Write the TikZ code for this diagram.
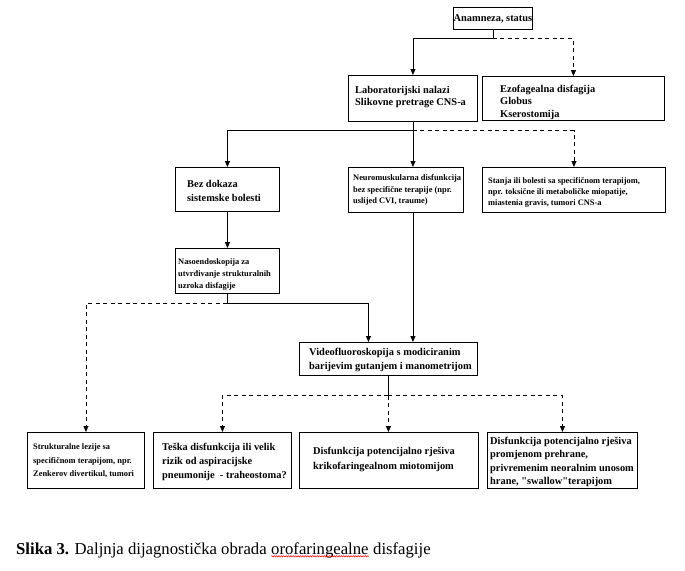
\documentclass[tikz,border=0pt]{standalone}
\usepackage{fontspec}
\setmainfont{Liberation Serif}
\usetikzlibrary{arrows.meta,decorations.pathmorphing}
\newcommand\straightq{\XeTeXglyph\XeTeXcharglyph"22\relax}
\begin{document}
\begin{tikzpicture}[x=1pt,y=-1pt,
  box/.style={draw=black, line width=0.9pt, inner sep=0pt, anchor=north west},
  tL/.style={anchor=west, inner sep=0pt, align=left, font=\fontsize{10.4}{12.5}\selectfont\bfseries},
  tS/.style={anchor=west, inner sep=0pt, align=left, font=\fontsize{8.4}{11.5}\selectfont\bfseries},
  conn/.style={draw=black, line width=0.9pt},
  dconn/.style={conn, dash pattern=on 4pt off 3.5pt},
  tip/.style={-{Triangle[length=6pt,width=5pt]}}
]
\useasboundingbox[fill=white] (0,0) rectangle (685,570);

% boxes
\node[box, minimum width=79pt, minimum height=22pt] (anam) at (453,7) {};
\node[box, minimum width=129pt, minimum height=46pt] (lab) at (348,75) {};
\node[box, minimum width=182pt, minimum height=44pt] (ezo) at (482,76) {};
\node[box, minimum width=104pt, minimum height=44pt] (bez) at (175,167) {};
\node[box, minimum width=115pt, minimum height=45pt] (neuro) at (348,167) {};
\node[box, minimum width=183pt, minimum height=45pt] (stanja) at (482,167) {};
\node[box, minimum width=104pt, minimum height=45pt] (naso) at (175,248) {};
\node[box, minimum width=178pt, minimum height=33pt] (video) at (299,342) {};
\node[box, minimum width=117pt, minimum height=56pt] (strukt) at (27,432) {};
\node[box, minimum width=138pt, minimum height=56pt] (teska) at (153,432) {};
\node[box, minimum width=179pt, minimum height=56pt] (kriko) at (299,432) {};
\node[box, minimum width=150pt, minimum height=56pt] (last) at (487,432) {};

% texts
\node[inner sep=0pt, font=\fontsize{10.4}{12.5}\selectfont\bfseries] (anam-t) at (anam.center) {Anamneza, status};
\node[tL] (lab-t) at (355,97) {Laboratorijski nalazi\\Slikovne pretrage CNS-a};
\node[tL] (ezo-t) at (500,102) {Ezofagealna disfagija\\Globus\\Kserostomija};
\node[tL, font=\fontsize{10.4}{14}\selectfont\bfseries] (bez-t) at (187,191) {Bez dokaza\\sistemske bolesti};
\node[tS] (neuro-t) at (353,190) {Neuromuskularna disfunkcija\\bez specifične terapije (npr.\\uslijed CVI, traume)};
\node[tS, font=\fontsize{8.4}{11}\selectfont\bfseries] (stanja-t) at (488,192) {Stanja ili bolesti sa specifičnom terapijom,\\npr. toksične ili metaboličke miopatije,\\miastenia gravis, tumori CNS-a};
\node[tS, font=\fontsize{8.4}{12}\selectfont\bfseries] (naso-t) at (178,275) {Nasoendoskopija za\\utvrđivanje strukturalnih\\uzroka disfagije};
\node[tL, font=\fontsize{10.4}{13.5}\selectfont\bfseries] (video-t) at (309,360) {Videofluoroskopija s modiciranim\\barijevim gutanjem i manometrijom};
\node[tS, font=\fontsize{8.4}{13.5}\selectfont\bfseries] (strukt-t) at (33,461) {Strukturalne lezije sa\\specifičnom terapijom, npr.\\Zenkerov divertikul, tumori};
\node[tL, font=\fontsize{10.4}{13.8}\selectfont\bfseries] (teska-t) at (162,462) {Teška disfunkcija ili velik\\rizik od aspiracijske\\pneumonije \ - traheostoma?};
\node[tL, font=\fontsize{10.4}{15}\selectfont\bfseries] (kriko-t) at (313,459) {Disfunkcija potencijalno rješiva\\krikofaringealnom miotomijom};
\node[tL, font=\fontsize{10.4}{13.4}\selectfont\bfseries] (last-t) at (490,462) {Disfunkcija potencijalno rješiva\\promjenom prehrane,\\privremenim neoralnim unosom\\hrane, \straightq swallow\straightq terapijom};

% junctions
\path (anam.south) ++(0,9) coordinate (j1);
\path (lab.south) ++(0,9) coordinate (j2);
\path (naso.south) ++(0,10) coordinate (j3);
\path (video.south) ++(0,20) coordinate (j5);

% connectors
\draw[conn, tip] (anam.south) -- (j1) -| (lab.north);
\draw[dconn, tip] (j1) -| (ezo.north);
\draw[conn, tip] (lab.south) -- (j2) -| (bez.north);
\draw[conn, tip] (j2) -- (j2 |- neuro.north);
\draw[dconn, tip] (j2) -| (stanja.north);
\draw[conn, tip] (bez.south) -- (naso.north);
\draw[conn, tip] (naso.south) -- (j3) -| ([xshift=-20pt]video.north);
\draw[dconn, tip] (j3) -| (strukt.north);
\draw[conn, tip] (j2 |- neuro.south) -- (j2 |- video.north);
\draw[conn] (video.south) -- (j5);
\draw[dconn, tip] (j5) -| (teska.north);
\draw[dconn, tip] (j5) -- (j5 |- kriko.north);
\draw[dconn, tip] (j5) -| (last.north);

% caption
\node[anchor=base west, inner sep=0pt, font=\fontsize{16.7}{18}\selectfont] (cap1) at (16,554) {\textbf{Slika 3.} Daljnja dijagnostička obrada\ \null};
\node[anchor=base west, inner sep=0pt, font=\fontsize{16.7}{18}\selectfont] (cap2) at (cap1.base east) {orofaringealne};
\node[anchor=base west, inner sep=0pt, font=\fontsize{16.7}{18}\selectfont] (cap3) at (cap2.base east) {\ disfagije};
\draw[red, line width=0.5pt, decorate, decoration={snake, amplitude=0.7pt, segment length=2.4pt}] ([yshift=1.5pt]cap2.south west) -- ([yshift=1.5pt]cap2.south east);
\end{tikzpicture}
\end{document}
